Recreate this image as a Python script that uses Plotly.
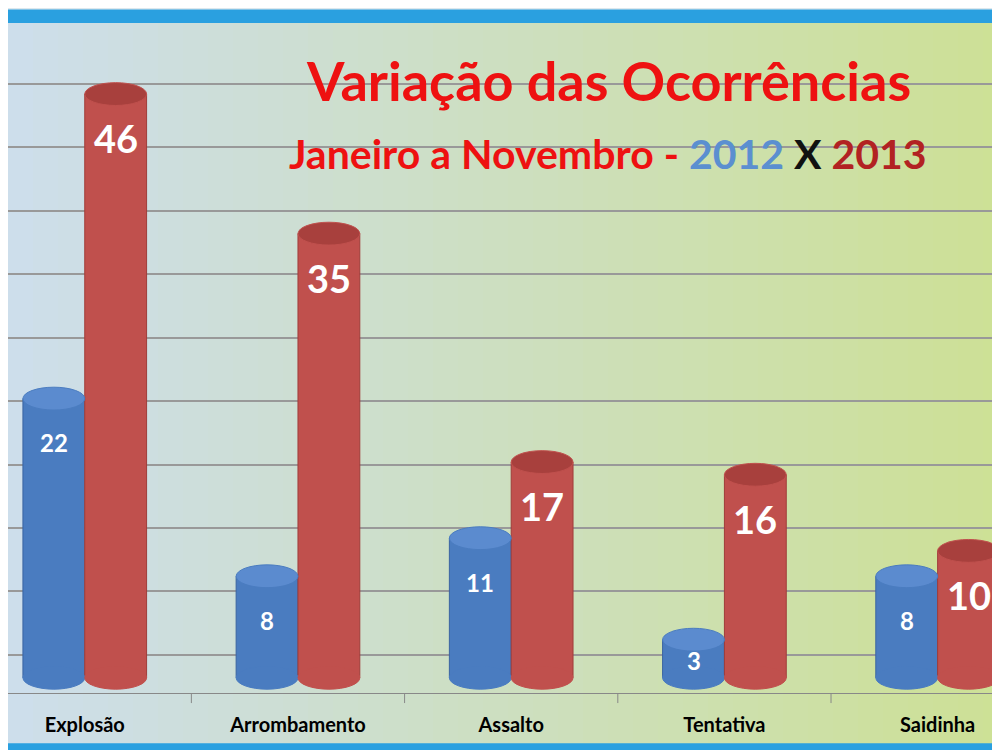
import plotly.graph_objects as go

# ---- data ----
categories = ["Explosão", "Arrombamento", "Assalto", "Tentativa", "Saidinha"]
values_2012 = [22, 8, 11, 3, 8]
values_2013 = [46, 35, 17, 16, 10]

blue = "#4a7cc0"
red = "#c0504d"
x_pos = list(range(len(categories)))

fig = go.Figure()

# background gradient (blue-grey on the left to yellow-green on the right)
grad_left = (205, 222, 235)
grad_right = (205, 225, 150)
n = 40
for i in range(n):
    t = i / (n - 1)
    c = tuple(int(grad_left[k] + (grad_right[k] - grad_left[k]) * t) for k in range(3))
    fig.add_shape(type="rect", xref="paper", yref="paper", x0=i / n, x1=(i + 1) / n + 0.002,
                  y0=-0.2, y1=1.0, fillcolor="rgb(%d,%d,%d)" % c, line_width=0, layer="below")

bw = 0.29
fig.add_trace(go.Bar(x=x_pos, y=values_2012, width=bw, offset=-bw, name="2012",
                     marker=dict(color=blue, line=dict(color="#3a64a0", width=1))))
fig.add_trace(go.Bar(x=x_pos, y=values_2013, width=bw, offset=0, name="2013",
                     marker=dict(color=red, line=dict(color="#a03c3a", width=1))))

# cylinder tops and bottoms
for vals, top_col, col, off in [(values_2012, "#5b8bcf", blue, -bw), (values_2013, "#a8403d", red, 0)]:
    for x, v in zip(x_pos, vals):
        for yy, fc in [(0, col), (v, top_col)]:
            fig.add_shape(type="circle", x0=x + off, x1=x + off + bw, y0=yy - 0.9, y1=yy + 0.9,
                          fillcolor=fc, line=dict(color=col, width=1), layer="above")

# value labels just below the cylinder tops
for vals, off, size in [(values_2012, -bw / 2, 24), (values_2013, bw / 2, 38)]:
    for x, v in zip(x_pos, vals):
        fig.add_annotation(x=x + off, y=v, text=str(v), showarrow=False, yanchor="middle",
                           yshift=-min(44, v * 12.8 * 0.55),
                           font=dict(color="white", size=size, family="Lato", weight="bold"))

# category boundary ticks
for b in range(len(categories)):
    fig.add_shape(type="line", x0=b + 0.5, x1=b + 0.5, yref="paper", y0=0, y1=-0.015,
                  line=dict(color="#888888", width=1))

# top and bottom border stripes
fig.add_shape(type="rect", xref="paper", yref="paper", x0=0, x1=1, y0=1.0, y1=1.02,
              fillcolor="#2aa0e0", line_width=0)
fig.add_shape(type="rect", xref="paper", yref="paper", x0=0, x1=1, y0=-0.095, y1=-0.075,
              fillcolor="#2aa0e0", line_width=0)

# titles
fig.add_annotation(xref="paper", yref="paper", x=0.6, y=0.965, yanchor="top", showarrow=False,
                   text="Variação das Ocorrências",
                   font=dict(family="Lato", size=54, color="#ee1111", weight="bold"))
fig.add_annotation(xref="paper", yref="paper", x=0.6, y=0.845, yanchor="top", showarrow=False,
                   text="Janeiro a Novembro - <span style='color:#5b8fd0'>2012</span> "
                        "<span style='color:#111111'>X</span> <span style='color:#b22222'>2013</span>",
                   font=dict(family="Lato", size=41, color="#ee1111", weight="bold"))

fig.update_layout(
    width=1000, height=750,
    margin=dict(l=0, r=0, t=15, b=65),
    paper_bgcolor="#dde8ee", plot_bgcolor="rgba(0,0,0,0)",
    showlegend=False, barmode="overlay",
    font=dict(family="Lato"),
)
fig.update_xaxes(range=[-0.36, 4.33], tickvals=x_pos, ticktext=categories, showgrid=False,
                 showline=True, linecolor="#888888", ticks="outside", ticklen=14,
                 tickcolor="rgba(0,0,0,0)",
                 tickfont=dict(size=20, color="black", family="Lato", weight="bold"))
fig.update_yaxes(range=[-1.2, 51.6], showticklabels=False, tick0=1.8, dtick=5,
                 gridcolor="#999999", gridwidth=1.5, zeroline=False)

fig.write_html("out.html")
